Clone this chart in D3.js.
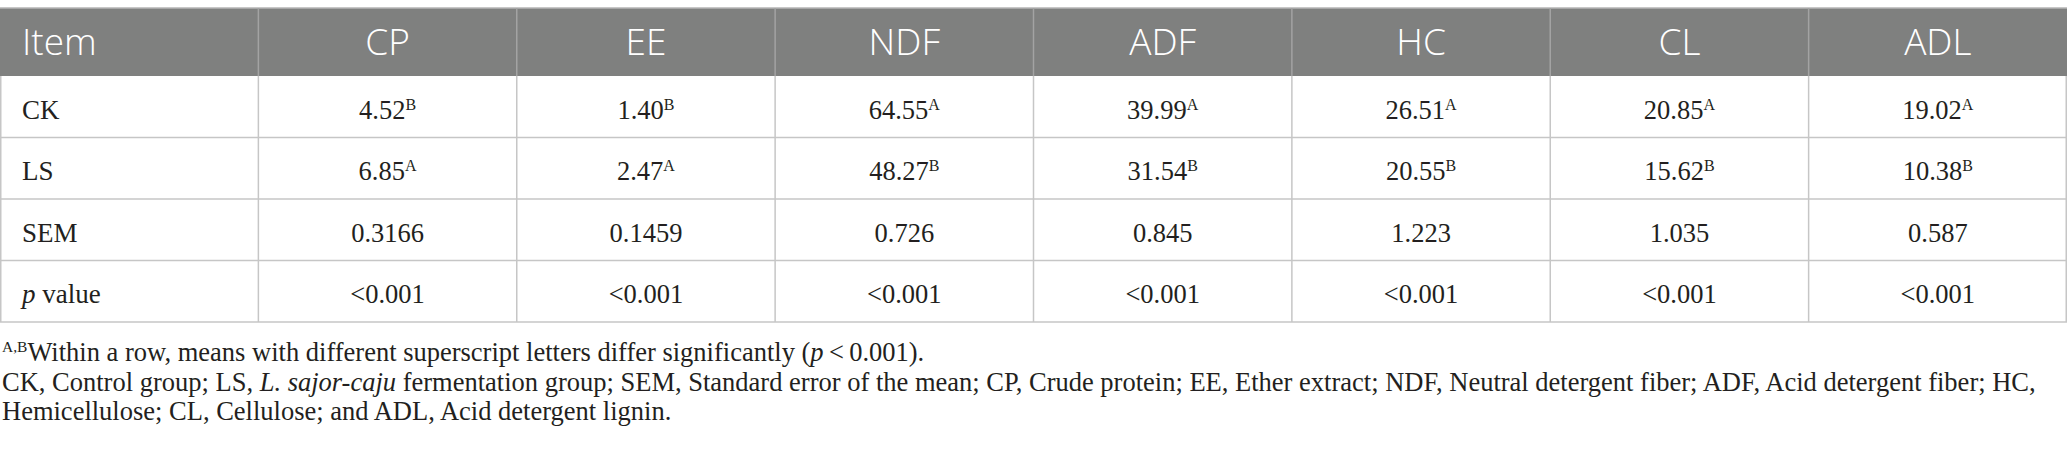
<!DOCTYPE html>
<html>
<head>
<meta charset="utf-8">
<script src="https://cdn.jsdelivr.net/npm/d3@7"></script>
<style>
  html, body { margin: 0; padding: 0; background: #fff; }
  svg { display: block; }
</style>
</head>
<body>
<div id="table"></div>
<script>
// table content
var columns = ["Item", "CP", "EE", "NDF", "ADF", "HC", "CL", "ADL"];
var rowNames = ["CK", "LS", "SEM", "p value"];
var ckValues = ["4.52", "1.40", "64.55", "39.99", "26.51", "20.85", "19.02"];
var ckLetters = ["B", "B", "A", "A", "A", "A", "A"];
var lsValues = ["6.85", "2.47", "48.27", "31.54", "20.55", "15.62", "10.38"];
var lsLetters = ["A", "A", "B", "B", "B", "B", "B"];
var semValues = ["0.3166", "0.1459", "0.726", "0.845", "1.223", "1.035", "0.587"];
var pValues = ["<0.001", "<0.001", "<0.001", "<0.001", "<0.001", "<0.001", "<0.001"];

var footnotes = [
    [{ t: "A,B", sup: true }, { t: "Within a row, means with different superscript letters differ significantly (" }, { t: "p", it: true }, { t: "\u2009<\u20090.001)." }],
    [{ t: "CK, Control group; LS, " }, { t: "L. sajor-caju", it: true }, { t: " fermentation group; SEM, Standard error of the mean; CP, Crude protein; EE, Ether extract; NDF, Neutral detergent fiber; ADF, Acid detergent fiber; HC," }],
    [{ t: "Hemicellulose; CL, Cellulose; and ADL, Acid detergent lignin." }]
];

var width = 2067;
var height = 454;
var headTop = 8, headBottom = 76, tableBottom = 322;
var serif = "'Liberation Serif', 'Times New Roman', serif";
var sans = "'Open Sans', 'Noto Sans', sans-serif";

var rows = [
    { name: "CK", values: ckValues, letters: ckLetters },
    { name: "LS", values: lsValues, letters: lsLetters },
    { name: "SEM", values: semValues, letters: null },
    { name: "p value", values: pValues, letters: null }
];

var x = d3.scaleBand()
    .domain(columns)
    .range([0, width]);

var y = d3.scaleBand()
    .domain(rowNames)
    .range([headBottom, tableBottom]);

var svg = d3.select("#table")
    .append("svg")
    .attr("width", width)
    .attr("height", height);

// header band
svg.append("rect")
    .attr("x", 0)
    .attr("y", headTop)
    .attr("width", width)
    .attr("height", headBottom - headTop)
    .attr("fill", "#7f807f");

svg.append("line")
    .attr("x1", 0).attr("x2", width)
    .attr("y1", headTop).attr("y2", headTop)
    .attr("stroke", "#b5b5b5")
    .attr("stroke-width", 1.5);

// header column separators
svg.append("g")
    .selectAll("line").data(columns.slice(1)).enter().append("line")
    .attr("x1", d => x(d)).attr("x2", d => x(d))
    .attr("y1", headTop).attr("y2", headBottom)
    .attr("stroke", "#a3a3a3")
    .attr("stroke-width", 1.5);

// body grid
var grid = svg.append("g")
    .attr("stroke", "#c6c6c6")
    .attr("stroke-width", 1.5);

grid.selectAll("line.h").data(rowNames).enter().append("line")
    .attr("class", "h")
    .attr("x1", 0).attr("x2", width)
    .attr("y1", d => y(d) + y.bandwidth()).attr("y2", d => y(d) + y.bandwidth());

grid.selectAll("line.v").data(columns.slice(1).concat(["end"])).enter().append("line")
    .attr("class", "v")
    .attr("x1", d => d === "end" ? width - 0.75 : x(d))
    .attr("x2", d => d === "end" ? width - 0.75 : x(d))
    .attr("y1", headBottom).attr("y2", tableBottom);

grid.append("line")
    .attr("x1", 0.75).attr("x2", 0.75)
    .attr("y1", headBottom).attr("y2", tableBottom);

// header labels
svg.append("g")
    .selectAll("text").data(columns).enter().append("text")
    .attr("x", d => d === "Item" ? 22 : x(d) + x.bandwidth() / 2)
    .attr("y", (headTop + headBottom) / 2 + 13)
    .attr("text-anchor", d => d === "Item" ? "start" : "middle")
    .attr("font-family", sans)
    .attr("font-weight", 300)
    .attr("font-size", 37)
    .attr("fill", "#ffffff")
    .text(d => d);

// row labels
var labels = svg.append("g")
    .selectAll("text").data(rows).enter().append("text")
    .attr("x", 22)
    .attr("y", d => y(d.name) + y.bandwidth() / 2 + 12)
    .attr("font-family", serif)
    .attr("font-size", 27)
    .attr("fill", "#231f20");

labels.filter(d => d.name === "p value").each(function () {
    var t = d3.select(this);
    t.append("tspan").attr("font-style", "italic").text("p");
    t.append("tspan").text(" value");
});
labels.filter(d => d.name !== "p value").text(d => d.name);

// cell values
var cells = svg.append("g")
    .selectAll("g").data(rows).enter().append("g");

cells.each(function (row) {
    var sel = d3.select(this)
        .selectAll("text").data(row.values).enter().append("text")
        .attr("x", (v, i) => x(columns[i + 1]) + x.bandwidth() / 2)
        .attr("y", y(row.name) + y.bandwidth() / 2 + 12)
        .attr("text-anchor", "middle")
        .attr("font-family", serif)
        .attr("font-size", 26.5)
        .attr("fill", "#231f20");

    sel.append("tspan").text(v => v);
    if (row.letters) {
        sel.append("tspan")
            .attr("font-size", 16)
            .attr("dy", -9)
            .text((v, i) => row.letters[i]);
    }
});

// footnotes
var notes = svg.append("g")
    .selectAll("text").data(footnotes).enter().append("text")
    .attr("x", 2)
    .attr("y", (d, i) => 361 + i * 29.5)
    .attr("font-family", serif)
    .attr("font-size", 26.5)
    .attr("fill", "#231f20");

notes.each(function (parts) {
    var t = d3.select(this);
    var raised = false;
    parts.forEach(function (p) {
        var s = t.append("tspan").text(p.t);
        if (p.it) s.attr("font-style", "italic");
        if (p.sup) {
            s.attr("font-size", 15.5).attr("dy", -9);
            raised = true;
        } else if (raised) {
            s.attr("dy", 9);
            raised = false;
        }
    });
});

svg.node();
</script>
</body>
</html>
